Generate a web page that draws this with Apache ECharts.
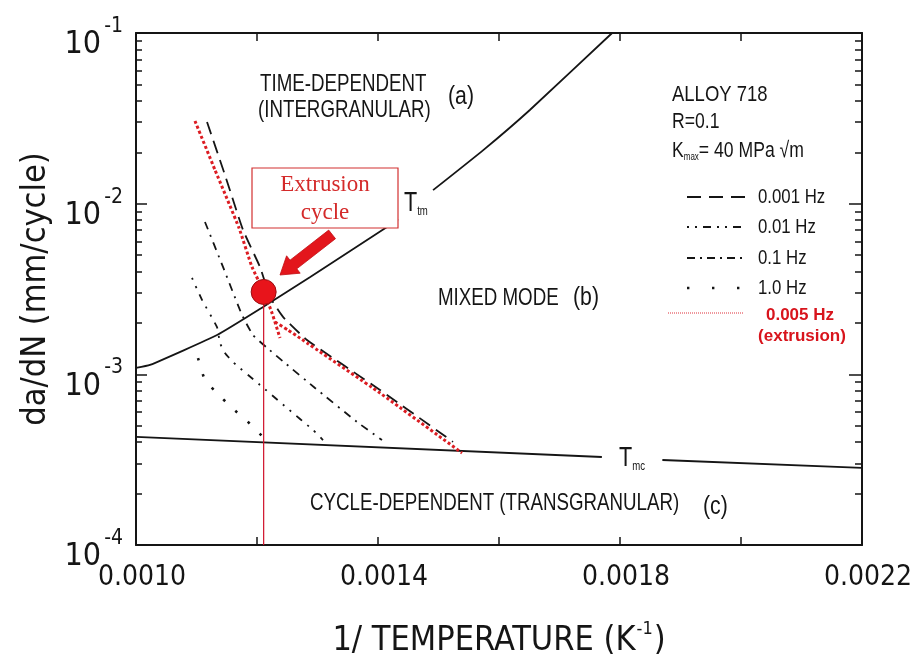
<!DOCTYPE html>
<html><head><meta charset="utf-8">
<script src="https://cdn.jsdelivr.net/npm/echarts@6/dist/echarts.min.js"></script>
<style>html,body{margin:0;padding:0;background:#fff}#c{width:914px;height:662px}</style>
</head><body><div id="c"></div>
<script>
const FONT = '"Liberation Sans Narrow","DejaVu Sans Condensed","Liberation Sans",sans-serif';
const AFONT = '"Liberation Sans", Arial, sans-serif';
const INK = '#151515';
const RED = '#dc1c22';

// ---- axis ticks / labels ----
const xTickValues = [0.0010, 0.0012, 0.0014, 0.0016, 0.0018, 0.0020, 0.0022];
const xLabelValues = [0.0010, 0.0014, 0.0018, 0.0022];
const xLabels = ['0.0010', '0.0014', '0.0018', '0.0022'];
const yDecades = [1e-4, 1e-3, 1e-2, 1e-1];
const yExponents = ['-4', '-3', '-2', '-1'];
const yMinor = [2e-4,3e-4,4e-4,5e-4,6e-4,7e-4,8e-4,9e-4,
                2e-3,3e-3,4e-3,5e-3,6e-3,7e-3,8e-3,9e-3,
                2e-2,3e-2,4e-2,5e-2,6e-2,7e-2,8e-2,9e-2];

// ---- curves (x = 1/T in K^-1, y = da/dN in mm/cycle) ----
const ttmLow  = [[0.0010000,1.09e-3],[0.0010231,1.135e-3],[0.001134,1.70e-3],[0.001210,2.48e-3],[0.001288,3.72e-3],[0.001425,7.7e-3],[0.001433,8.1e-3]];
const ttmHigh = [[0.001491,1.20e-2],[0.001574,2.06e-2],[0.001651,3.54e-2],[0.001787,1.0e-1]];
const tmcLeft  = [[0.0010000,4.30e-4],[0.001770,3.28e-4]];
const tmcRight = [[0.001870,3.15e-4],[0.002200,2.83e-4]];
const hz0001 = [[0.0011174,3.01e-2],[0.0011471,1.47e-2],[0.0011769,7.01e-3],[0.0012050,4.25e-3],[0.0012215,2.84e-3],[0.0012430,2.17e-3],[0.0012826,1.59e-3],[0.0014033,8.10e-4],[0.0015240,4.02e-4]];
const hz001  = [[0.0011140,7.81e-3],[0.0011438,4.26e-3],[0.0011752,2.23e-3],[0.0011934,1.70e-3],[0.0012165,1.43e-3],[0.0012463,1.165e-3],[0.0012959,8.32e-4],[0.0013653,5.26e-4],[0.0014066,4.12e-4]];
const hz01   = [[0.0010926,3.67e-3],[0.0011091,2.73e-3],[0.0011339,1.89e-3],[0.0011388,1.527e-3],[0.0011471,1.334e-3],[0.0011603,1.18e-3],[0.0012050,8.66e-4],[0.0012496,6.35e-4],[0.0012926,4.72e-4],[0.0013091,4.12e-4]];
const hz1    = [[0.0011025,1.246e-3],[0.0011140,9.26e-4],[0.0011355,7.67e-4],[0.0011587,6.35e-4],[0.0011835,5.33e-4],[0.0012083,4.35e-4]];
const hzExtrusionUpper = [[0.0010975,3.05e-2],[0.0011306,1.575e-2],[0.0011703,7.20e-3],[0.0011917,4.26e-3],[0.0012099,3.12e-3],[0.0012248,2.29e-3],[0.0012380,1.633e-3]];
const hzExtrusionLower = [[0.0012298,2.025e-3],[0.0012512,1.819e-3],[0.0012711,1.63e-3],[0.0014033,7.77e-4],[0.0015389,3.46e-4]];
const extrusionPoint = [[0.001211, 3.04e-3]];
const extrusionDrop  = [[0.001211, 3.04e-3],[0.001211, 1e-4]];

const chart = echarts.init(document.getElementById('c'), null, {renderer: 'canvas'});

const lineS = (data, color, width, type, z, cap) => ({
  type: 'line', data, showSymbol: false, symbol: 'none', smooth: 0.15,
  lineStyle: {color, width, type, cap: cap || 'butt'}, z: z || 2, silent: true, animation: false
});

function yLabelFmt(v) {
  let i = 0, best = 1e9;
  yDecades.forEach((d, k) => { const e = Math.abs(Math.log10(d) - Math.log10(v)); if (e < best) { best = e; i = k; } });
  return '{b|10}{s|' + yExponents[i] + '}';
}
function xLabelFmt(v) {
  let i = -1;
  xLabelValues.forEach((d, k) => { if (Math.abs(d - v) < 1e-8) i = k; });
  return i < 0 ? '' : xLabels[i];
}

const baseY = {type: 'log', logBase: 10, min: 1e-4, max: 1e-1, splitLine: {show: false}};
// minor-tick axes: linear in log10(da/dN)
const minorY = {type: 'value', min: -4, max: -1, splitLine: {show: false}, axisLine: {show: false}, axisLabel: {show: false}, offset: 0};

// narrow text helper (Helvetica-Narrow look: Arial metrics squeezed horizontally)
const txt = (x, y, text, size, opts) => Object.assign({
  type: 'text', x, y, z: 11, scaleX: (opts && opts.sx) || 0.8,
  style: Object.assign({text, font: size + 'px ' + AFONT, fill: INK, align: 'left', verticalAlign: 'middle'}, (opts && opts.style) || {})
});

const option = {
  backgroundColor: '#fff',
  animation: false,
  grid: {left: 136, top: 33, right: 52, bottom: 117, containLabel: false, outerBoundsMode: 'none'},
  xAxis: [
    {type: 'value', position: 'bottom', min: 0.0010, max: 0.0022, interval: 0.0002,
     axisLine: {show: true, lineStyle: {color: INK, width: 2}},
     axisTick: {show: true, inside: true, length: 8, customValues: xTickValues, lineStyle: {color: INK, width: 1.5}},
     axisLabel: {customValues: xLabelValues, formatter: xLabelFmt, fontFamily: FONT, fontSize: 28, color: INK, margin: 19, padding: [0,0,0,12]},
     splitLine: {show: false},
     name: '{t|1/ TEMPERATURE (K}{s|-1}{t|)}', nameLocation: 'middle', nameGap: 75,
     nameTextStyle: {rich: {
       t: {fontFamily: FONT, fontSize: 34, color: INK, verticalAlign: 'bottom'},
       s: {fontFamily: FONT, fontSize: 18, color: INK, verticalAlign: 'bottom', padding: [0,1,20,1]}
     }}},
    {type: 'value', position: 'top', min: 0.0010, max: 0.0022, interval: 0.0002,
     axisLine: {show: true, lineStyle: {color: INK, width: 2}},
     axisTick: {show: true, inside: true, length: 8, customValues: xTickValues, lineStyle: {color: INK, width: 1.5}},
     axisLabel: {show: false}, splitLine: {show: false}}
  ],
  yAxis: [
    Object.assign({}, baseY, {position: 'left',
     axisLine: {show: true, lineStyle: {color: INK, width: 2}},
     axisTick: {show: true, inside: true, length: 11, lineStyle: {color: INK, width: 1.5}},
     axisLabel: {formatter: yLabelFmt, margin: 13, verticalAlign: 'middle',
       rich: {
         b: {fontFamily: FONT, fontSize: 32, color: INK, verticalAlign: 'bottom', padding: [24,0,0,0]},
         s: {fontFamily: FONT, fontSize: 21, color: INK, verticalAlign: 'bottom', padding: [0,0,24,3]}
       }},
     name: 'da/dN (mm/cycle)', nameLocation: 'middle', nameGap: 82, nameRotate: 90,
     nameTextStyle: {fontFamily: FONT, fontSize: 34, color: INK}}),
    Object.assign({}, baseY, {position: 'right',
     axisLine: {show: true, lineStyle: {color: INK, width: 2}},
     axisTick: {show: true, inside: true, length: 13, lineStyle: {color: INK, width: 1.5}},
     axisLabel: {show: false}}),
    Object.assign({}, minorY, {position: 'left',
     axisTick: {show: true, inside: true, length: 6, customValues: yMinor.map(Math.log10), lineStyle: {color: INK, width: 1.5}}}),
    Object.assign({}, minorY, {position: 'right',
     axisTick: {show: true, inside: true, length: 7, customValues: yMinor.map(Math.log10), lineStyle: {color: INK, width: 1.5}}})
  ],
  series: [
    lineS(ttmLow, INK, 1.8, 'solid'),
    lineS(ttmHigh, INK, 1.8, 'solid'),
    lineS(tmcLeft, INK, 1.9, 'solid'),
    lineS(tmcRight, INK, 1.9, 'solid'),
    lineS(hz0001, INK, 1.8, [13, 7]),
    lineS(hz001, INK, 1.8, [8, 6, 2, 6]),
    lineS(hz01, INK, 1.8, [2, 7, 2, 7, 7, 7]),
    lineS(hz1, INK, 2.6, [2.6, 14]),
    lineS(hzExtrusionUpper, RED, 3, [3, 2.4], 4),
    lineS(hzExtrusionLower, RED, 3, [3, 2.4], 4),
    lineS(extrusionDrop, '#d0102a', 1.2, 'solid', 3),
    {type: 'scatter', data: extrusionPoint, symbol: 'circle', symbolSize: 25, z: 6, silent: true,
     itemStyle: {color: '#e8141b', opacity: 1, borderColor: '#9a0c10', borderWidth: 1}}
  ],
  graphic: [
    // extrusion callout box
    {type: 'rect', shape: {x: 252, y: 168, width: 146, height: 60}, style: {fill: '#fff', stroke: '#d23030', lineWidth: 1.2}, z: 10},
    {type: 'text', x: 325, y: 185, z: 11, style: {text: 'Extrusion', font: '23px "Liberation Serif", serif', fill: '#d42a2a', align: 'center', verticalAlign: 'middle'}},
    {type: 'text', x: 325, y: 213, z: 11, style: {text: 'cycle', font: '23px "Liberation Serif", serif', fill: '#d42a2a', align: 'center', verticalAlign: 'middle'}},
    // arrow
    {type: 'polygon', z: 10, shape: {points: [[280,275],[300.2,273.2],[296.8,268.8],[335.5,238.7],[328.7,230.1],[290.0,260.2],[286.6,255.8]]},
     style: {fill: '#e3161c', stroke: '#c20f14', lineWidth: 0.8}},
    // region annotations
    txt(260, 84, 'TIME-DEPENDENT', 24, {sx: 0.78}),
    txt(258, 110, '(INTERGRANULAR)', 24, {sx: 0.78}),
    txt(448, 97, '(a)', 25, {sx: 0.85}),
    txt(438, 298, 'MIXED MODE', 24, {sx: 0.78}),
    txt(573, 298, '(b)', 25, {sx: 0.85}),
    txt(310, 503, 'CYCLE-DEPENDENT (TRANSGRANULAR)', 24, {sx: 0.78}),
    txt(703, 507, '(c)', 25, {sx: 0.85}),
    // boundary labels
    {type: 'text', x: 404, y: 204, z: 11, scaleX: 0.8, style: {text: '{T|T}{s|tm}', align: 'left', verticalAlign: 'middle',
      rich: {T: {font: '27px ' + AFONT, fill: INK, verticalAlign: 'bottom'}, s: {font: '12px ' + AFONT, fill: INK, verticalAlign: 'bottom'}}}},
    {type: 'text', x: 619, y: 459, z: 11, scaleX: 0.8, style: {text: '{T|T}{s|mc}', align: 'left', verticalAlign: 'middle',
      rich: {T: {font: '27px ' + AFONT, fill: INK, verticalAlign: 'bottom'}, s: {font: '12px ' + AFONT, fill: INK, verticalAlign: 'bottom'}}}},
    // material block
    txt(672, 95, 'ALLOY 718', 22, {sx: 0.84}),
    txt(672, 122, 'R=0.1', 22, {sx: 0.8}),
    {type: 'text', x: 672, y: 151, z: 11, scaleX: 0.8, style: {text: '{K|K}{s|max}{K|= 40 MPa \u221Am}', align: 'left', verticalAlign: 'middle',
      rich: {K: {font: '22px ' + AFONT, fill: INK, verticalAlign: 'bottom'}, s: {font: '10px ' + AFONT, fill: INK, verticalAlign: 'bottom'}}}},
    // legend
    {type: 'line', z: 11, shape: {x1: 687, y1: 197, x2: 745, y2: 197}, style: {stroke: INK, lineWidth: 1.8, lineDash: [14, 8]}},
    txt(758, 197, '0.001 Hz', 21, {sx: 0.8}),
    {type: 'line', z: 11, shape: {x1: 687, y1: 227, x2: 745, y2: 227}, style: {stroke: INK, lineWidth: 1.8, lineDash: [2, 6, 2, 6, 8, 6]}},
    txt(758, 227, '0.01 Hz', 21, {sx: 0.8}),
    {type: 'line', z: 11, shape: {x1: 687, y1: 258, x2: 745, y2: 258}, style: {stroke: INK, lineWidth: 1.8, lineDash: [8, 5, 2, 5]}},
    txt(758, 258, '0.1 Hz', 21, {sx: 0.8}),
    {type: 'line', z: 11, shape: {x1: 687, y1: 288, x2: 740, y2: 288}, style: {stroke: INK, lineWidth: 2.4, lineDash: [2.4, 22.6]}},
    txt(758, 288, '1.0 Hz', 21, {sx: 0.8}),
    {type: 'line', z: 11, shape: {x1: 668, y1: 313, x2: 744, y2: 313}, style: {stroke: '#e0303a', lineWidth: 1, lineDash: [1, 1]}},
    {type: 'text', x: 800, y: 315, z: 11, style: {text: '0.005 Hz', font: 'bold 17px ' + AFONT, fill: '#d8141c', align: 'center', verticalAlign: 'middle'}},
    {type: 'text', x: 802, y: 336, z: 11, style: {text: '(extrusion)', font: 'bold 17px ' + AFONT, fill: '#d8141c', align: 'center', verticalAlign: 'middle'}}
  ]
};
chart.setOption(option);
</script>
</body></html>
